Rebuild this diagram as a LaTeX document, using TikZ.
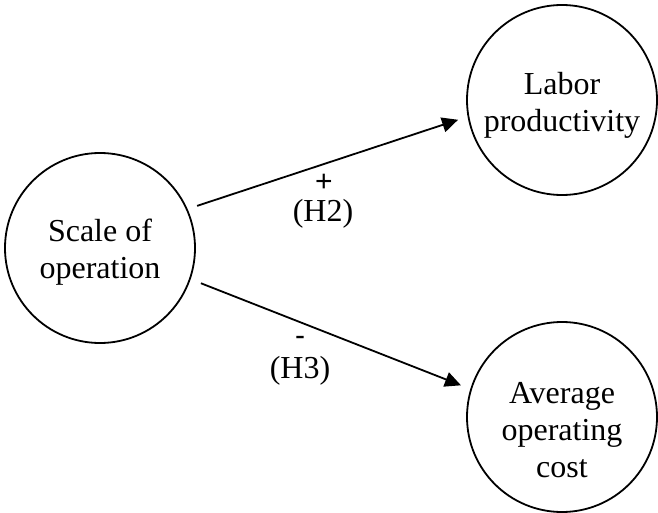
\documentclass[tikz,border=0pt]{standalone}
\usepackage{fontspec}
\setmainfont{Liberation Serif}
\newfontfamily\signfont{Liberation Sans}
\usetikzlibrary{arrows.meta}
\begin{document}
\begin{tikzpicture}[x=1pt,y=-1pt,
  construct/.style={circle,draw,line width=1.8pt,minimum size=190pt,inner sep=0pt},
  label text/.style={align=center,inner sep=0pt,anchor=base,
    font=\fontsize{32}{37}\selectfont},
  path/.style={line width=1.8pt,-{Triangle[length=16pt,width=15pt]}},
  hyp/.style={font=\fontsize{32}{34}\selectfont,inner sep=0pt,anchor=base},
  sign/.style={font=\signfont\fontsize{30}{30}\selectfont,inner sep=0pt}]
\useasboundingbox (0,0) rectangle (658,513);
% the three constructs
\node[construct] (scale) at (100,248) {};
\node[construct] (labor) at (562,100) {};
\node[construct] (cost)  at (562,417) {};
% their names (anchored at the baseline of the last line)
\node[label text] (scaletxt) at (100,278) {Scale of\\operation};
\node[label text] (labortxt) at (562,132) {Labor\\productivity};
\node[label text] (costtxt)  at (562,477) {Average\\operating\\cost};
% hypothesised effects
\draw[path,shorten <=10pt,shorten >=10pt] (scale.24) -- (labor.190.5);
\draw[path,shorten <=11pt,shorten >=10pt] (scale.-19.7) -- (cost.163.4);
\node[sign] (plus) at (324,183) {+};
\node[hyp] (h2) at (323,221) {(H2)};
\node[sign] (minus) at (300,341) {-};
\node[hyp] (h3) at (300,378) {(H3)};
\end{tikzpicture}
\end{document}
